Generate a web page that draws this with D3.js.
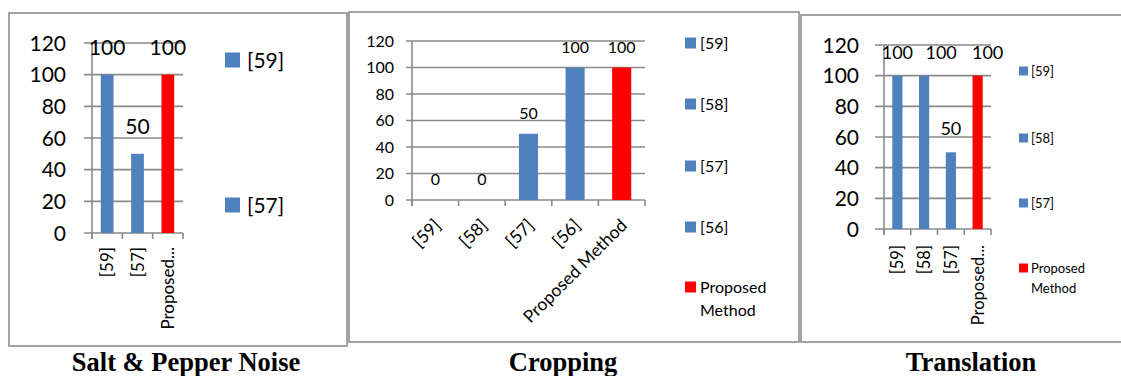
<!DOCTYPE html>
<html><head><meta charset="utf-8">
<script src="https://cdn.jsdelivr.net/npm/d3@7"></script>
<style>
html,body{margin:0;padding:0;background:#fff;}
svg{display:block;}
</style></head>
<body>
<svg id="chart" width="1121" height="376"></svg>
<script>
// ---- data ----
const yTicks = [0, 20, 40, 60, 80, 100, 120];

const saltCategories = ["[59]", "[57]", "Proposed Method"];
const saltTickLabels = ["[59]", "[57]", "Proposed..."];
const saltValues = [100, 50, 100];
const saltLegend = ["[59]", "[57]"];
const saltTitle = "Salt & Pepper Noise";

const cropCategories = ["[59]", "[58]", "[57]", "[56]", "Proposed Method"];
const cropTickLabels = ["[59]", "[58]", "[57]", "[56]", "Proposed Method"];
const cropValues = [0, 0, 50, 100, 100];
const cropLegend = ["[59]", "[58]", "[57]", "[56]", "Proposed Method"];
const cropTitle = "Cropping";

const transCategories = ["[59]", "[58]", "[57]", "Proposed Method"];
const transTickLabels = ["[59]", "[58]", "[57]", "Proposed..."];
const transValues = [100, 100, 50, 100];
const transLegend = ["[59]", "[58]", "[57]", "Proposed Method"];
const transTitle = "Translation";

// ---- styles ----
const BLUE = "#4F81BD", RED = "#FF0000", GRID = "#8a8a8a", FRAME = "#8c8c8c";
const SANS = "Lato, 'Open Sans', sans-serif";
const colorOf = c => c === "Proposed Method" ? RED : BLUE;

const svg = d3.select("#chart");

function drawPanel(cats, tickLabels, values, legend, title, L) {
  const g = svg.append("g");
  g.append("rect").attr("x", L.frame[0]).attr("y", L.frame[1])
    .attr("width", L.frame[2]).attr("height", L.frame[3])
    .attr("fill", "none").attr("stroke", FRAME).attr("stroke-width", 1.6);

  const x = d3.scaleBand().domain(cats).range([L.x0, L.x1])
    .paddingInner(L.pad).paddingOuter(L.pad / 2);
  const y = d3.scaleLinear().domain([0, 120]).range([L.yb, L.yt]);

  // gridlines
  g.selectAll(".grid").data(yTicks).enter().append("line")
    .attr("x1", L.x0 - L.tick).attr("x2", L.x1)
    .attr("y1", d => y(d)).attr("y2", d => y(d))
    .attr("stroke", GRID).attr("stroke-width", 1.6);
  // y axis line
  g.append("line").attr("x1", L.x0).attr("x2", L.x0)
    .attr("y1", y(120)).attr("y2", y(0) + L.btick)
    .attr("stroke", GRID).attr("stroke-width", 1.6);
  // bottom ticks at band boundaries
  const step = x.step();
  g.selectAll(".bt").data(d3.range(cats.length + 1)).enter().append("line")
    .attr("x1", i => L.x0 + i * step).attr("x2", i => L.x0 + i * step)
    .attr("y1", y(0)).attr("y2", y(0) + L.btick)
    .attr("stroke", GRID).attr("stroke-width", 1.6);

  // y tick labels
  g.selectAll(".yl").data(yTicks).enter().append("text")
    .attr("x", L.ylx).attr("y", d => y(d)).attr("dy", "0.36em")
    .attr("text-anchor", "end").attr("font-family", SANS)
    .attr("font-size", L.yfs).attr("fill", "#000").text(d => d);

  // bars
  g.selectAll(".bar").data(cats).enter().append("rect")
    .attr("x", c => x(c)).attr("width", x.bandwidth())
    .attr("y", (c, i) => y(values[i]))
    .attr("height", (c, i) => y(0) - y(values[i]))
    .attr("fill", c => colorOf(c));

  // data labels (nudged sideways where labels would collide)
  g.selectAll(".dl").data(cats).enter().append("text")
    .attr("x", (c, i) => x(c) + x.bandwidth() / 2 + (L.dlDx ? L.dlDx[i] : 0))
    .attr("y", (c, i) => y(values[i]) - L.dlOff)
    .attr("text-anchor", "middle").attr("font-family", SANS)
    .attr("font-size", L.dfs).attr("fill", "#000")
    .text((c, i) => values[i]);

  // category labels
  g.selectAll(".cl").data(cats).enter().append("text")
    .attr("transform", c => `translate(${x(c) + x.bandwidth() / 2 + L.cdx},${y(0) + L.cdy}) rotate(${L.rot})`)
    .attr("dy", "0.36em")
    .attr("text-anchor", "end").attr("font-family", SANS)
    .attr("font-size", L.cfs).attr("fill", "#000")
    .text((c, i) => tickLabels[i]);

  // legend
  legend.forEach((name, i) => {
    const cy = L.legY[i];
    g.append("rect").attr("x", L.legX).attr("y", cy - L.legSq / 2)
      .attr("width", L.legSq).attr("height", L.legSq).attr("fill", colorOf(name));
    const t = g.append("text").attr("x", L.legTx).attr("y", cy).attr("dy", "0.36em")
      .attr("font-family", SANS).attr("font-size", L.lfs).attr("fill", "#000");
    if (L.legWrap && name === "Proposed Method") {
      t.append("tspan").attr("x", L.legTx).text("Proposed");
      t.append("tspan").attr("x", L.legTx).attr("dy", L.legLine).text("Method");
    } else t.text(name);
  });

  // title
  svg.append("text").attr("x", L.titleX).attr("y", 371)
    .attr("text-anchor", "middle")
    .attr("font-family", "'Liberation Serif', 'Times New Roman', serif")
    .attr("font-weight", "bold").attr("font-size", 26.5).attr("fill", "#000")
    .text(title);
}

drawPanel(saltCategories, saltTickLabels, saltValues, saltLegend, saltTitle, {
  frame: [9, 13, 338, 333], x0: 92, x1: 183, yt: 43, yb: 233, pad: 0.58,
  tick: 8, btick: 6, ylx: 66, yfs: 21, dfs: 21, dlOff: 20,
  cdx: 0, cdy: 14, rot: -90, cfs: 17,
  legX: 225, legSq: 15, legTx: 247, lfs: 21, legY: [60, 205], legWrap: false,
  titleX: 186
});

drawPanel(cropCategories, cropTickLabels, cropValues, cropLegend, cropTitle, {
  frame: [349, 12, 450, 330], x0: 412, x1: 645, yt: 41, yb: 200, pad: 0.59,
  tick: 6, btick: 6, ylx: 394, yfs: 16, dfs: 16, dlOff: 15,
  cdx: 2, cdy: 22, rot: -45, cfs: 17.5,
  legX: 685, legSq: 11, legTx: 700, lfs: 16, legY: [43, 104, 166, 227, 287], legWrap: true, legLine: 23,
  titleX: 563
});

drawPanel(transCategories, transTickLabels, transValues, transLegend, transTitle, {
  frame: [801, 15, 330, 327], x0: 884, x1: 991, yt: 45, yb: 229, pad: 0.62,
  tick: 9, btick: 6, ylx: 859, yfs: 21, dfs: 18, dlOff: 17, dlDx: [0, 17, 0, 10],
  cdx: 0, cdy: 16, rot: -90, cfs: 16.5,
  legX: 1019, legSq: 9, legTx: 1031, lfs: 13, legY: [71, 138, 203, 268], legWrap: true, legLine: 20,
  titleX: 971
});
</script>
</body></html>
